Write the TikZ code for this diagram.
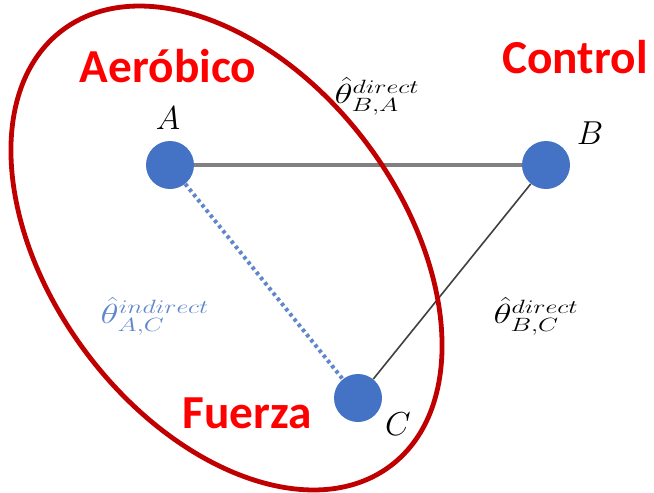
\documentclass[tikz,border=0pt]{standalone}
\usepackage{amsmath,amssymb}
\usepackage{fontspec}
\newfontfamily\grpfont{Carlito}
\usetikzlibrary{positioning}
\definecolor{ptblue}{HTML}{4472C4}
\definecolor{grpred}{HTML}{C00000}
\begin{document}
\begin{tikzpicture}[x=0.75pt,y=-0.75pt,
  pt/.style={circle,fill=ptblue,minimum size=36pt,inner sep=0pt},
  ptlab/.style={font=\fontsize{23}{27}\selectfont},
  est/.style={font=\fontsize{21}{25}\selectfont,inner sep=0pt},
  grp/.style={font=\grpfont\bfseries\fontsize{35.5}{42}\selectfont,text=red}]
  \useasboundingbox (0,0) rectangle (654,493);
  \fill[white] (0,0) rectangle (654,493);
  % points
  \node[pt] (nodeA) at (170,165) {};
  \node[pt] (nodeB) at (546,165) {};
  \node[pt] (nodeC) at (358,398) {};
  \node[ptlab] (labA) at (168,118) {$A$};
  \node[ptlab] (labB) at (590,133) {$B$};
  \node[ptlab] (labC) at (398,424) {$C$};
  % links
  \draw[gray,line width=3pt] (nodeA) -- (nodeB);
  \draw[black!75,line width=1.2pt] (nodeB) -- (nodeC);
  \draw[ptblue!85,line width=3pt,dash pattern=on 2.5pt off 2.5pt] (nodeA) -- (nodeC);
  % estimates
  \node[est] (estBA) at (377,96) {\scalebox{1.35}[1]{$\hat{\theta}^{direct}_{B,A}$}};
  \node[est,text=ptblue!85] (estAC) at (155,316) {\scalebox{1.35}[1]{$\hat{\theta}^{indirect}_{A,C}$}};
  \node[est] (estBC) at (536,316) {\scalebox{1.35}[1]{$\hat{\theta}^{direct}_{B,C}$}};
  % group
  \draw[grpred,line width=3.6pt,rotate around={-53:(226.5,248)}] (226.5,248) ellipse [x radius=272.7,y radius=175];
  \node[grp] (grpAer) at (168,66) {Aeróbico};
  \node[grp] (grpCtl) at (575,57) {Control};
  \node[grp] (grpFue) at (247,413) {Fuerza};
\end{tikzpicture}
\end{document}
